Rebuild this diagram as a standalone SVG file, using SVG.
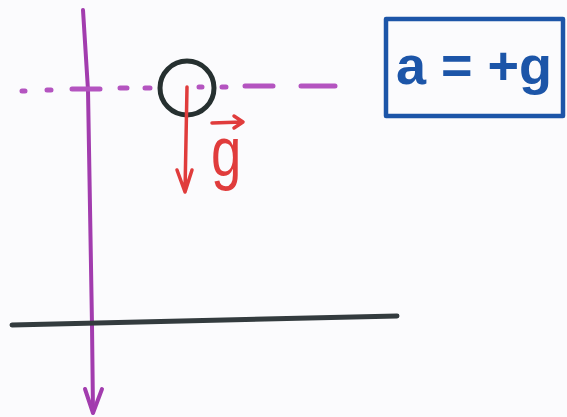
<svg xmlns="http://www.w3.org/2000/svg" width="567" height="417" viewBox="0 0 567 417">
<defs>
<style>
.axis{stroke:#a23cae;stroke-width:4;fill:none;stroke-linecap:round;stroke-linejoin:round}
.dash{stroke:#b454c0;stroke-width:5;fill:none;stroke-linecap:round}
.ground{stroke:#333b3e;stroke-width:5;fill:none;stroke-linecap:round}
.red{stroke:#e03c3c;stroke-width:3.5;fill:none;stroke-linecap:round;stroke-linejoin:round}
.ball{stroke:#263030;stroke-width:5;fill:none}
.box{stroke:#1c55a8;stroke-width:4.5;fill:none;stroke-linejoin:round}
</style>
</defs>
<rect width="567" height="417" fill="#fbfbfd"/>
<g id="connectors">
<path class="axis" d="M83 10 L88 90 L92 325 L93 412"/>
<path class="axis" d="M85 389 L93 413 L102 389"/>
<path class="dash" d="M22 91 L25 91 M47 90 L51 90 M72 89 L100 89 M120 88 L127 88 M145 88 L150 88 M199 87 L202 87 M222 87 L226 87 M245 86 L273 86 M301 86 L335 86"/>
</g>
<g id="ground"><path class="ground" d="M12 325 Q200 320 397 316"/></g>
<g id="ball"><circle class="ball" cx="187" cy="88" r="27"/></g>
<g id="gravity">
<path class="red" d="M187 87 L185 192 M177 170 L185 192 L192 170"/>
<path class="red" d="M212 123 L242 122 M234 116 L243 122 L234 128"/>
<text x="0" y="0" transform="translate(211 176) scale(0.78 1)" font-family="Liberation Sans, sans-serif" font-size="70" fill="#e03c3c">g</text>
</g>
<g id="result">
<rect class="box" x="386" y="19" width="177" height="97"/>
<text x="474" y="84" text-anchor="middle" font-family="Liberation Sans, sans-serif" font-weight="bold" font-size="54" fill="#1c55a8">a = +g</text>
</g>
</svg>
